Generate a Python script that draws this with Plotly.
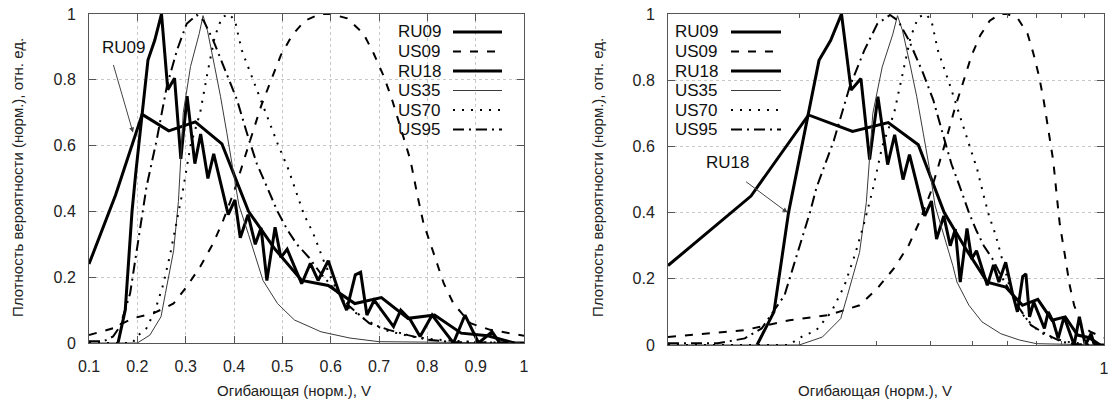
import math
import plotly.graph_objects as go

# ---------------- data ----------------
series_names = ["RU09", "US09", "RU18", "US35", "US70", "US95"]

ru09_x = [0.100, 0.155, 0.210, 0.265, 0.320, 0.375, 0.430, 0.485, 0.540, 0.595, 0.650, 0.705, 0.760, 0.815, 0.870, 0.925, 0.980]
ru09_y = [0.24, 0.45, 0.695, 0.645, 0.672, 0.605, 0.40, 0.285, 0.19, 0.175, 0.12, 0.138, 0.075, 0.085, 0.03, 0.022, 0.0]

us09_x = [0.10, 0.15, 0.19, 0.233, 0.275, 0.302, 0.33, 0.357, 0.378, 0.40, 0.43, 0.456, 0.477, 0.497, 0.52, 0.547, 0.578, 0.60,
          0.634, 0.668, 0.689, 0.71, 0.727, 0.74, 0.751, 0.765, 0.78, 0.792, 0.813, 0.834, 0.854, 0.889, 0.93, 1.0]
us09_y = [0.024, 0.045, 0.075, 0.09, 0.12, 0.171, 0.232, 0.303, 0.374, 0.46, 0.60, 0.72, 0.80, 0.875, 0.935, 0.98, 1.0, 1.0,
          0.987, 0.94, 0.88, 0.81, 0.74, 0.678, 0.627, 0.556, 0.445, 0.364, 0.273, 0.181, 0.12, 0.06, 0.04, 0.022]

ru18_x = [0.160, 0.175, 0.189, 0.197, 0.222, 0.236, 0.250, 0.263, 0.277, 0.290, 0.303, 0.319, 0.331, 0.346, 0.358, 0.388,
          0.402, 0.413, 0.429, 0.444, 0.456, 0.468, 0.485, 0.497, 0.510, 0.540, 0.558, 0.574, 0.595, 0.617, 0.633, 0.651,
          0.662, 0.675, 0.690, 0.730, 0.745, 0.765, 0.785, 0.810, 0.828, 0.854, 0.878, 0.906, 0.934, 0.950, 1.0]
ru18_y = [0.0, 0.10, 0.40, 0.52, 0.86, 0.92, 1.0, 0.77, 0.805, 0.56, 0.75, 0.545, 0.635, 0.50, 0.575, 0.39,
          0.435, 0.32, 0.39, 0.30, 0.35, 0.19, 0.352, 0.26, 0.285, 0.18, 0.242, 0.19, 0.25, 0.155, 0.10, 0.207,
          0.215, 0.085, 0.13, 0.05, 0.10, 0.07, 0.02, 0.085, 0.05, 0.0, 0.085, 0.0, 0.034, 0.0, 0.0]

us35_x = [0.10, 0.20, 0.226, 0.249, 0.258, 0.275, 0.285, 0.295, 0.31, 0.328, 0.336, 0.345, 0.36, 0.372, 0.385, 0.397,
          0.41, 0.43, 0.45, 0.46, 0.49, 0.525, 0.58, 0.64, 0.70, 1.0]
us35_y = [0.0, 0.0, 0.024, 0.08, 0.15, 0.28, 0.43, 0.70, 0.84, 0.94, 0.995, 0.95, 0.84, 0.75, 0.64, 0.54,
          0.42, 0.33, 0.24, 0.19, 0.12, 0.07, 0.034, 0.015, 0.004, 0.0]

us70_x = [0.10, 0.19, 0.199, 0.219, 0.237, 0.254, 0.268, 0.282, 0.295, 0.31, 0.33, 0.345, 0.36, 0.375, 0.39, 0.402, 0.416,
          0.442, 0.468, 0.49, 0.512, 0.53, 0.545, 0.564, 0.585, 0.606, 0.634, 0.668, 0.71, 0.765, 0.82, 0.9, 1.0]
us70_y = [0.0, 0.0, 0.02, 0.045, 0.10, 0.18, 0.27, 0.37, 0.47, 0.60, 0.70, 0.82, 0.93, 0.99, 1.0, 0.98, 0.89,
          0.79, 0.69, 0.607, 0.53, 0.45, 0.39, 0.333, 0.252, 0.181, 0.11, 0.075, 0.04, 0.02, 0.01, 0.003, 0.0]

us95_x = [0.10, 0.13, 0.15, 0.164, 0.185, 0.199, 0.212, 0.219, 0.24, 0.261, 0.282, 0.302, 0.323, 0.337, 0.357, 0.385,
          0.406, 0.427, 0.447, 0.468, 0.49, 0.51, 0.53, 0.555, 0.58, 0.61, 0.64, 0.68, 0.72, 0.76, 0.80, 0.85, 1.0]
us95_y = [0.005, 0.005, 0.02, 0.05, 0.15, 0.283, 0.404, 0.475, 0.617, 0.78, 0.89, 0.97, 0.997, 0.98, 0.92, 0.82,
          0.74, 0.637, 0.546, 0.475, 0.40, 0.345, 0.30, 0.26, 0.21, 0.16, 0.11, 0.06, 0.04, 0.024, 0.01, 0.003, 0.0]

x_ticks_left = [0.1, 0.2, 0.3, 0.4, 0.5, 0.6, 0.7, 0.8, 0.9, 1.0]
x_ticklabels_left = ["0.1", "0.2", "0.3", "0.4", "0.5", "0.6", "0.7", "0.8", "0.9", "1"]
y_ticks = [0, 0.2, 0.4, 0.6, 0.8, 1.0]
y_ticklabels = ["0", "0.2", "0.4", "0.6", "0.8", "1"]
x_minor_right = [0.2, 0.3, 0.4, 0.5, 0.6, 0.7, 0.8, 0.9]

x_title = "Огибающая (норм.), V"
y_title = "Плотность вероятности (норм.), отн. ед."

# ---------------- styles ----------------
W, H = 1108, 407
FONT = "Liberation Sans, Arial, sans-serif"
styles = {
    "RU09": dict(color="black", width=3, dash="solid"),
    "US09": dict(color="black", width=2, dash="8px,9px"),
    "RU18": dict(color="black", width=3, dash="solid"),
    "US35": dict(color="#3a3a3a", width=1, dash="solid"),
    "US70": dict(color="black", width=2, dash="2px,7px"),
    "US95": dict(color="black", width=2, dash="11px,5px,2px,5px"),
}
data = {
    "RU09": (ru09_x, ru09_y),
    "US09": (us09_x, us09_y),
    "RU18": (ru18_x, ru18_y),
    "US35": (us35_x, us35_y),
    "US70": (us70_x, us70_y),
    "US95": (us95_x, us95_y),
}

fig = go.Figure()
for axes in [("x", "y"), ("x2", "y2")]:
    for name in series_names:
        xs, ys = data[name]
        fig.add_trace(go.Scatter(x=xs, y=ys, mode="lines", name=name, line=styles[name],
                                 xaxis=axes[0], yaxis=axes[1], showlegend=False, hoverinfo="skip"))

def px_x(p):
    return p / W

def px_y(p):
    return 1 - p / H

axis_common = dict(showline=True, linecolor="#555555", linewidth=1, mirror="ticks", ticks="inside",
                   tickcolor="#555555", zeroline=False, automargin=False, ticklabeloverflow="allow",
                   tickfont=dict(family=FONT, size=16, color="#222222"),
                   gridcolor="#c8c8c8", griddash="dot", gridwidth=1)

fig.update_layout(
    width=W, height=H, margin=dict(l=0, r=0, t=0, b=0),
    paper_bgcolor="white", plot_bgcolor="white", showlegend=False,
    xaxis=dict(domain=[px_x(89), px_x(524)], range=[0.1, 1.0], tickvals=x_ticks_left,
               ticktext=x_ticklabels_left, showgrid=True, anchor="y", ticklen=7, ticklabelstandoff=9,
               **axis_common),
    yaxis=dict(domain=[px_y(343), px_y(14)], range=[0, 1.0], tickvals=y_ticks, ticktext=y_ticklabels,
               showgrid=True, anchor="x", ticklen=7, ticklabelstandoff=9, **axis_common),
    xaxis2=dict(domain=[px_x(668), px_x(1104)], type="log", range=[-1, 0], tickvals=[0.1, 1.0],
                ticktext=["", "1"], showgrid=False, anchor="y2", ticklen=7, ticklabelstandoff=9,
                minor=dict(tickvals=x_minor_right, ticks="inside", ticklen=4, tickcolor="#555555", showgrid=False),
                **axis_common),
    yaxis2=dict(domain=[px_y(345), px_y(14)], range=[0, 1.0], tickvals=y_ticks, ticktext=y_ticklabels,
                showgrid=True, anchor="x2", ticklen=7, ticklabelstandoff=9, **axis_common),
)

annotations = []
shapes = []
# axis titles
for cx in [294, 875]:
    annotations.append(dict(text=x_title, x=px_x(cx), y=px_y(390), xref="paper", yref="paper",
                            xanchor="center", yanchor="middle",
                            showarrow=False, font=dict(family=FONT, size=15, color="#222222")))
for cx in [18, 598]:
    annotations.append(dict(text=y_title, x=px_x(cx), y=px_y(178), xref="paper", yref="paper",
                            xanchor="center", yanchor="middle",
                            textangle=-90, showarrow=False, font=dict(family=FONT, size=15, color="#222222")))

# legends (drawn as text + sample lines)
row_y = [32, 51.5, 71, 90.5, 110, 129.5]
for text_right, s0, s1 in [(443, 453, 502), (720, 731, 781)]:
    for i, name in enumerate(series_names):
        annotations.append(dict(text=name, x=px_x(text_right), y=px_y(row_y[i]), xref="paper", yref="paper",
                                xanchor="right", yanchor="middle", showarrow=False,
                                font=dict(family=FONT, size=17, color="#111111")))
        st = styles[name]
        shapes.append(dict(type="line", xref="paper", yref="paper", x0=px_x(s0), x1=px_x(s1),
                           y0=px_y(row_y[i]), y1=px_y(row_y[i]),
                           line=dict(color=st["color"], width=st["width"], dash=st["dash"])))

# pointer labels
annotations.append(dict(text="RU09", x=px_x(123), y=px_y(47), xref="paper", yref="paper",
                        xanchor="center", yanchor="middle", showarrow=False,
                        font=dict(family=FONT, size=17, color="#111111")))
annotations.append(dict(text="", x=0.191, y=0.64, xref="x", yref="y", ax=-20, ay=-69, showarrow=True,
                        arrowhead=2, arrowsize=1, arrowwidth=1, arrowcolor="#444444"))
annotations.append(dict(text="RU18", x=px_x(727), y=px_y(163), xref="paper", yref="paper",
                        xanchor="center", yanchor="middle", showarrow=False,
                        font=dict(family=FONT, size=17, color="#111111")))
annotations.append(dict(text="", x=math.log10(0.188), y=0.40, xref="x2", yref="y2", ax=-43, ay=-32,
                        showarrow=True, arrowhead=2, arrowsize=1, arrowwidth=1, arrowcolor="#444444"))

fig.update_layout(annotations=annotations, shapes=shapes)
fig.write_html("out.html", config={"displayModeBar": False},
               post_script="document.body.style.margin='0';")
